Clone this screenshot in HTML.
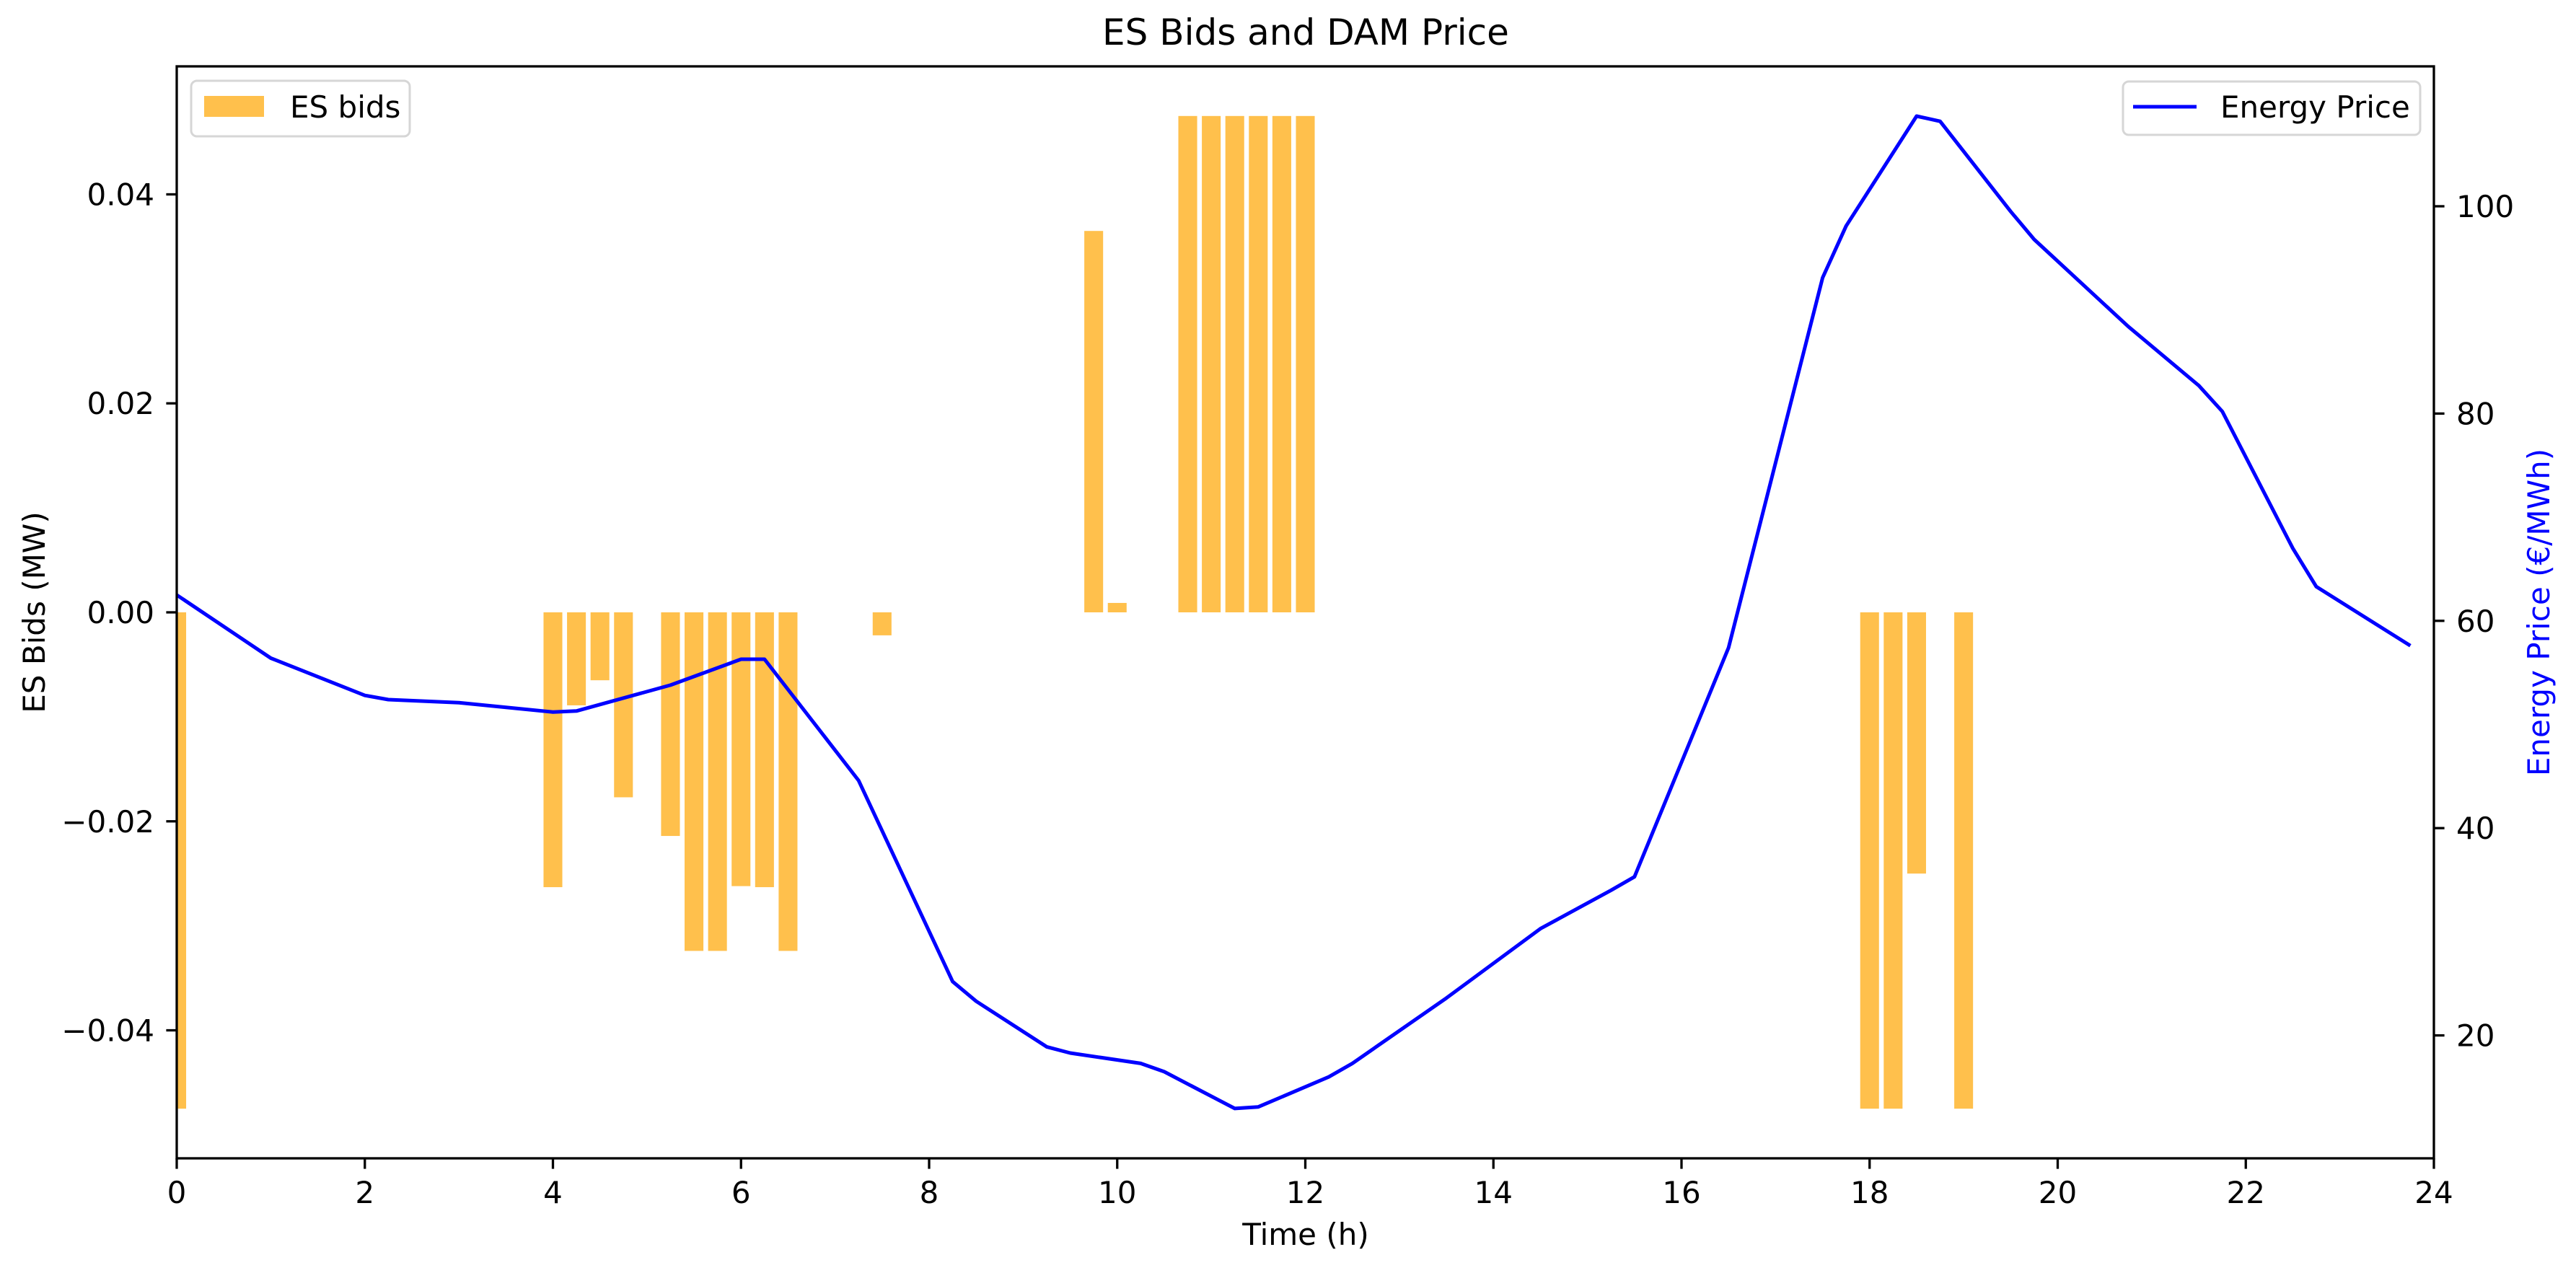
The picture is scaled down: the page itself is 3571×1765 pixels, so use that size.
<!DOCTYPE html>
<html><head><meta charset="utf-8"><title>ES Bids and DAM Price</title>
<style>html,body{margin:0;padding:0;background:#fff}svg{display:block}text{font-family:"DejaVu Sans","Liberation Sans",sans-serif;fill:#000}</style>
</head><body>
<svg id="chart" xmlns="http://www.w3.org/2000/svg" width="3571" height="1765" viewBox="0 0 3571 1765">
<defs><clipPath id="plotclip"><rect x="245" y="92" width="3129" height="1514"/></clipPath></defs>
<rect width="3571" height="1765" fill="#fff"/>
<g id="bars" clip-path="url(#plotclip)"></g>
<g id="line" clip-path="url(#plotclip)"></g>
<g id="axes"></g>
<text x="1810" y="62" font-size="50" text-anchor="middle">ES Bids and DAM Price</text>
<text x="1810" y="1726" font-size="42" text-anchor="middle">Time (h)</text>
<text x="0" y="0" font-size="42" text-anchor="middle" transform="translate(62,849) rotate(-90)">ES Bids (MW)</text>
<text x="0" y="0" font-size="42" text-anchor="middle" fill="#0000ff" style="fill:#0000ff" transform="translate(3534,849) rotate(-90)">Energy Price (€/MWh)</text>
<g>
<rect x="265" y="112" width="303" height="77" rx="8" fill="#fff" fill-opacity="0.8" stroke="#d6d6d6" stroke-width="3"/>
<rect x="283" y="133" width="83" height="29" fill="#FFA500" fill-opacity="0.7"/>
<text x="402" y="163" font-size="42">ES bids</text>
</g>
<g>
<rect x="2943" y="113" width="412" height="74" rx="8" fill="#fff" fill-opacity="0.8" stroke="#d6d6d6" stroke-width="3"/>
<line x1="2957" y1="148" x2="3045" y2="148" stroke="#0000ff" stroke-width="5"/>
<text x="3078" y="163" font-size="42">Energy Price</text>
</g>
</svg>
<script>
const bidHours = [0, 4, 4.25, 4.5, 4.75, 5.25, 5.5, 5.75, 6, 6.25, 6.5, 7.5, 9.75, 10, 10.75, 11, 11.25, 11.5, 11.75, 12, 18, 18.25, 18.5, 19];
const bidValues = [-0.0475, -0.0263, -0.0089, -0.0065, -0.0177, -0.0214, -0.0324, -0.0324, -0.0262, -0.0263, -0.0324, -0.0022, 0.0365, 0.0009, 0.0475, 0.0475, 0.0475, 0.0475, 0.0475, 0.0475, -0.0475, -0.0475, -0.025, -0.0475];
const priceHours = [0, 1, 2, 2.25, 3, 4, 4.25, 5.25, 6, 6.25, 7.25, 8.25, 8.5, 9.25, 9.5, 10.25, 10.5, 11.25, 11.5, 12.25, 12.5, 13.5, 14.5, 15.25, 15.5, 16.5, 17.5, 17.75, 18.5, 18.75, 19.5, 19.75, 20.75, 21.5, 21.75, 22.5, 22.75, 23.75];
const priceValues = [62.5, 56.4, 52.8, 52.4, 52.1, 51.2, 51.3, 53.8, 56.3, 56.3, 44.6, 25.2, 23.3, 18.9, 18.3, 17.3, 16.5, 12.95, 13.1, 16.0, 17.3, 23.6, 30.3, 34.0, 35.3, 57.4, 93.1, 98.1, 108.7, 108.2, 99.5, 96.8, 88.4, 82.7, 80.2, 67.0, 63.3, 57.6];
const xTicks = [0, 2, 4, 6, 8, 10, 12, 14, 16, 18, 20, 22, 24];
const leftTicks = [-0.04, -0.02, 0, 0.02, 0.04];
const leftTickLabels = ["\u22120.04", "\u22120.02", "0.00", "0.02", "0.04"];
const rightTicks = [20, 40, 60, 80, 100];

const L = 245, R = 3374, T = 92, B = 1606;
const xMin = 0, xMax = 24, lMin = -0.05225, lMax = 0.05225, pMin = 8.14, pMax = 113.5;
const NS = "http://www.w3.org/2000/svg";
function sx(h) { return L + (h - xMin) / (xMax - xMin) * (R - L); }
function sl(v) { return B - (v - lMin) / (lMax - lMin) * (B - T); }
function sp(v) { return B - (v - pMin) / (pMax - pMin) * (B - T); }
function mk(tag, attrs, parent) {
  const e = document.createElementNS(NS, tag);
  for (const k in attrs) e.setAttribute(k, attrs[k]);
  parent.appendChild(e);
  return e;
}
const barsG = document.getElementById('bars');
const lineG = document.getElementById('line');
const axesG = document.getElementById('axes');
const barW = 0.2;
bidHours.forEach((h, i) => {
  const v = bidValues[i];
  const x0 = sx(h - barW / 2), x1 = sx(h + barW / 2);
  const y0 = sl(Math.max(v, 0)), y1 = sl(Math.min(v, 0));
  const r = mk('rect', {x: x0, y: y0, width: x1 - x0, height: y1 - y0, fill: '#FFA500', 'fill-opacity': 0.7}, barsG);
  
  
});
const pts = priceHours.map((h, i) => sx(h).toFixed(1) + ',' + sp(priceValues[i]).toFixed(1)).join(' ');
const pl = mk('polyline', {points: pts, fill: 'none', stroke: '#0000ff', 'stroke-width': 5, 'stroke-linejoin': 'round'}, lineG);



const frame = mk('rect', {x: L, y: T, width: R - L, height: B - T, fill: 'none', stroke: '#000', 'stroke-width': 3.3}, axesG);


xTicks.forEach(t => {
  const x = sx(t);
  const tk = mk('line', {x1: x, y1: B, x2: x, y2: B + 14.6, stroke: '#000', 'stroke-width': 3.3}, axesG);
  
  
  const tx = mk('text', {x: x, y: 1668, 'font-size': 42, 'text-anchor': 'middle'}, axesG);
  tx.textContent = String(t);
  
  
});
leftTicks.forEach((t, i) => {
  const y = sl(t);
  const tk = mk('line', {x1: L - 14.6, y1: y, x2: L, y2: y, stroke: '#000', 'stroke-width': 3.3}, axesG);
  
  
  const tx = mk('text', {x: 214, y: y + 15, 'font-size': 42, 'text-anchor': 'end'}, axesG);
  tx.textContent = leftTickLabels[i];
  
  
});
rightTicks.forEach(t => {
  const y = sp(t);
  const tk = mk('line', {x1: R, y1: y, x2: R + 14.6, y2: y, stroke: '#000', 'stroke-width': 3.3}, axesG);
  
  
  const tx = mk('text', {x: 3405, y: y + 15, 'font-size': 42, 'text-anchor': 'start'}, axesG);
  tx.textContent = String(t);
  
  
});
</script>
</body></html>
